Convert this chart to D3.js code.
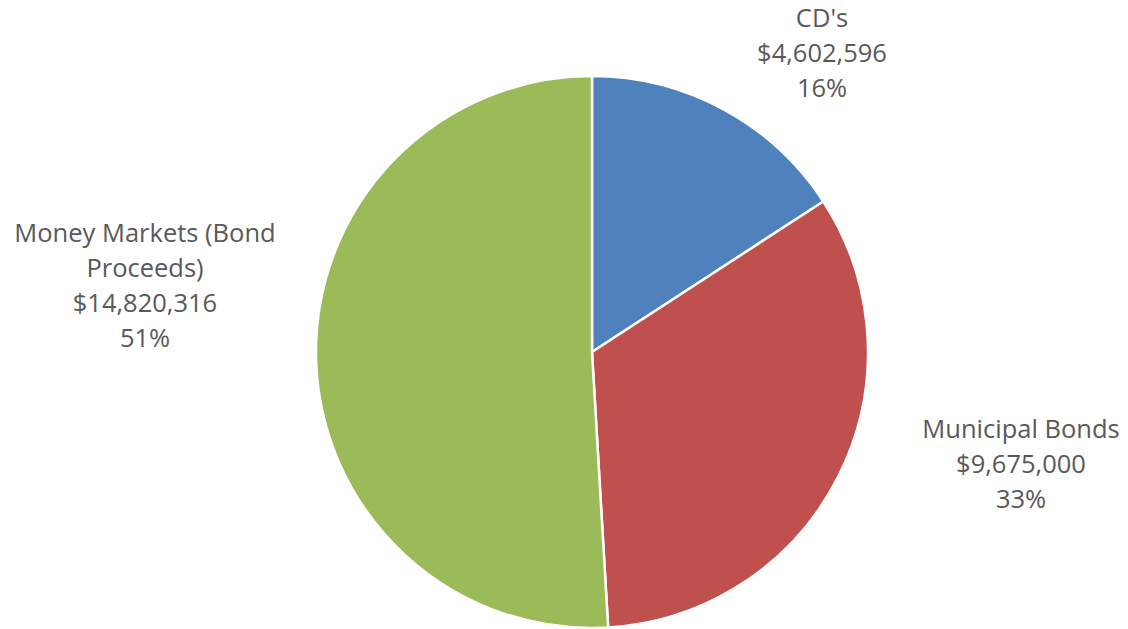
<!DOCTYPE html>
<html>
<head>
<meta charset="utf-8">
<script src="https://cdn.jsdelivr.net/npm/d3@7"></script>
<style>
  body { margin: 0; background: #fff; }
  svg { display: block; }
</style>
</head>
<body>
<svg id="chart"></svg>
<script>
// Data
let categories = ["CD's", 'Municipal Bonds', 'Money Markets (Bond Proceeds)'];
let amounts = [4602596, 9675000, 14820316];
let percentLabels = ['16%', '33%', '51%'];

// label text split into lines the way the picture wraps them
let nameLines = [["CD's"], ['Municipal Bonds'], ['Money Markets (Bond', 'Proceeds)']];

// Canvas setup
let width = 1128;
let height = 629;
let cx = 592;
let cy = 352;
let radius = 276;

let colors = ['#4F81BD', '#C0504D', '#9BBB59'];

// where each label block is centred (x) and the baseline of its first line (y)
let labelAnchors = [
    { x: 822, y: 27 },
    { x: 1021, y: 438 },
    { x: 145, y: 242 }
];

let svg = d3.select('#chart')
    .attr('width', width)
    .attr('height', height);

let values = categories.map((c, i) => {
    return { name: c, amount: amounts[i], pct: percentLabels[i], lines: nameLines[i], color: colors[i] };
});

let pie = d3.pie()
    .sort(null)
    .value((d) => d.amount);

let arc = d3.arc()
    .innerRadius(0)
    .outerRadius(radius);

let fmt = d3.format('$,');

// Slices
svg.append('g')
    .attr('transform', 'translate(' + cx + ',' + cy + ')')
    .selectAll('path')
    .data(pie(values))
    .enter()
    .append('path')
    .attr('d', arc)
    .attr('fill', (d) => d.data.color)
    .attr('stroke', '#fff')
    .attr('stroke-width', 2.5)
    .attr('stroke-linejoin', 'round');

// Data labels
let lineHeight = 35;
values.forEach((d, i) => {
    let allLines = d.lines.concat([fmt(d.amount), d.pct]);
    let t = svg.append('text')
        .attr('text-anchor', 'middle')
        .attr('font-family', 'Open Sans, Liberation Sans, sans-serif')
        .attr('font-size', 25.5)
        .attr('fill', '#595959');
    allLines.forEach((line, j) => {
        t.append('tspan')
            .attr('x', labelAnchors[i].x)
            .attr('y', labelAnchors[i].y + j * lineHeight)
            .text(line);
    });
});
</script>
</body>
</html>
